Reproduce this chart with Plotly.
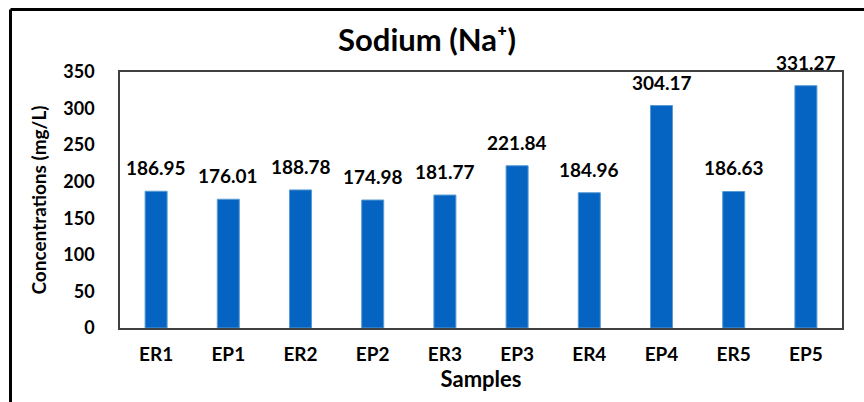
import plotly.graph_objects as go

samples = ["ER1", "EP1", "ER2", "EP2", "ER3", "EP3", "ER4", "EP4", "ER5", "EP5"]
sodium = [186.95, 176.01, 188.78, 174.98, 181.77, 221.84, 184.96, 304.17, 186.63, 331.27]
y_ticks = [0, 50, 100, 150, 200, 250, 300, 350]

FONT = "Lato"
W, H = 864, 402
L, R, T, B = 120, 22, 72, 74
pw, ph = W - L - R, H - T - B

fig = go.Figure()
fig.add_trace(go.Bar(
    x=samples, y=sodium,
    marker=dict(color="#0563C1", line=dict(color="#5B9BD5", width=1)),
    width=0.305,
))

for s, v in zip(samples, sodium):
    fig.add_annotation(x=s, y=v, text=f"{v:.2f}", showarrow=False,
                       yanchor="bottom", yshift=10,
                       font=dict(family=FONT, size=19, color="#000000", weight="bold"))

# outer frame (left and top edges visible)
fx = (10.5 - L) / pw
fy = 1 + (T - 9.5) / ph
fig.add_shape(type="line", xref="paper", yref="paper", x0=fx, x1=fx, y0=-0.5, y1=fy,
              line=dict(color="#000000", width=3))
fig.add_shape(type="line", xref="paper", yref="paper", x0=fx, x1=1.2, y0=fy, y1=fy,
              line=dict(color="#000000", width=3))

fig.update_layout(
    width=W, height=H,
    margin=dict(l=L, r=R, t=T, b=B, autoexpand=False),
    paper_bgcolor="white", plot_bgcolor="white",
    showlegend=False,
    bargap=0.7,
    title=dict(text="Sodium (Na\u207a)", x=427 / W, xref="container", xanchor="center",
               y=1 - 40 / H, yref="container", yanchor="middle",
               font=dict(family=FONT, size=31, color="#000000", weight="bold")),
    xaxis=dict(
        title=dict(text="Samples", standoff=4,
                   font=dict(family=FONT, size=22, color="#000000", weight="bold")),
        tickfont=dict(family=FONT, size=19, color="#000000", weight="bold"),
        showline=True, linecolor="#404040", linewidth=1.5, mirror=True,
        showgrid=False, ticks="", ticklabelstandoff=8, automargin=False,
    ),
    yaxis=dict(
        title=dict(text="Concentrations (mg/L)", standoff=12,
                   font=dict(family=FONT, size=19, color="#000000", weight="bold")),
        range=[0, 350], tickvals=y_ticks, ticktext=[str(t) for t in y_ticks],
        tickfont=dict(family=FONT, size=18, color="#000000", weight="bold"),
        showline=True, linecolor="#404040", linewidth=1.5, mirror=True,
        showgrid=False, zeroline=False, ticks="", ticklabelstandoff=20, automargin=False,
    ),
)

fig.write_html("out.html", config={"displayModeBar": False},
               post_script="document.body.style.margin='0';")
